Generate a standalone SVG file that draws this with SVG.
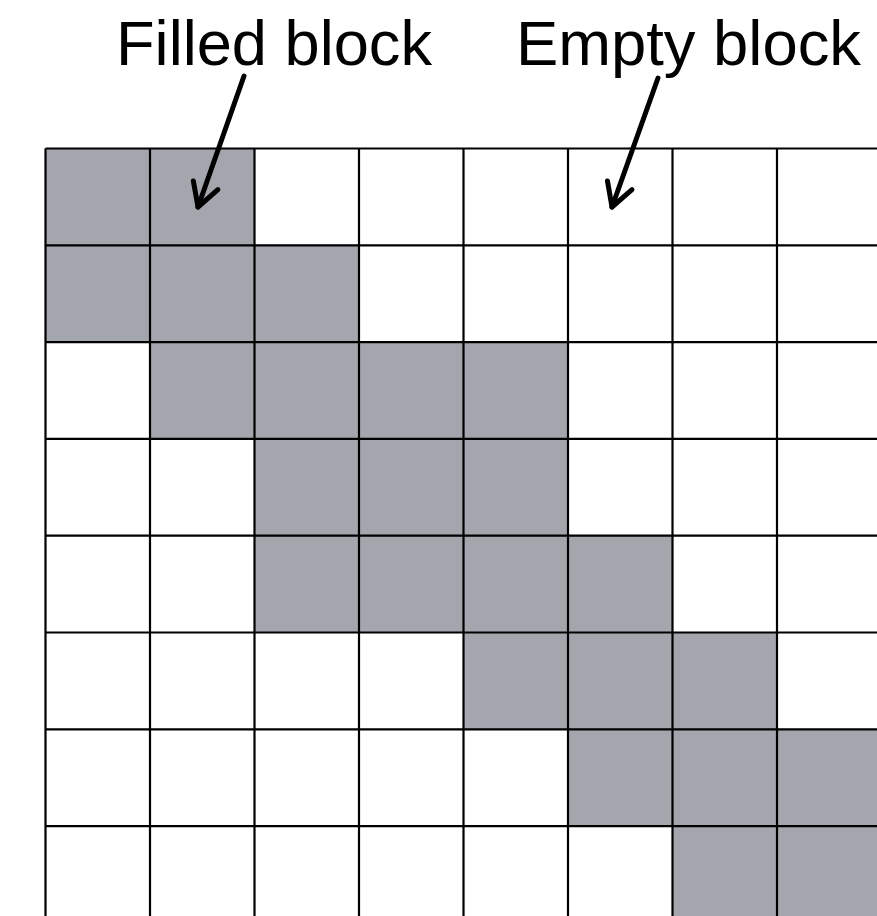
<svg xmlns="http://www.w3.org/2000/svg" width="877" height="916" viewBox="0 0 877 916">
<style>
.bg{fill:#ffffff}
.f{fill:#a3a6ad}
.g{stroke:#000;stroke-width:2.2;fill:none}
.lbl{font-family:"Liberation Sans",Arial,sans-serif;font-size:63px;fill:#000}
.arr{stroke:#000;stroke-width:5;fill:none;stroke-linecap:round;stroke-linejoin:round}
</style>
<defs>
<marker id="ah" markerUnits="userSpaceOnUse" markerWidth="40" markerHeight="40" viewBox="-30 -20 40 40" refX="0" refY="0" orient="auto" overflow="visible">
<path d="M-23,-13 L0,0 L-23,13" fill="none" stroke="#000" stroke-width="5" stroke-linecap="round" stroke-linejoin="round"/>
</marker>
</defs>
<rect class="bg" x="0" y="0" width="877" height="916"/>
<g id="matrix">
<g id="filled">
<rect class="f" x="45.5" y="148.5" width="209" height="96.8"/>
<rect class="f" x="45.5" y="245.3" width="313.5" height="96.8"/>
<rect class="f" x="150" y="342.1" width="418" height="96.8"/>
<rect class="f" x="254.5" y="438.9" width="313.5" height="96.8"/>
<rect class="f" x="254.5" y="535.7" width="418" height="96.8"/>
<rect class="f" x="463.5" y="632.5" width="313.5" height="96.8"/>
<rect class="f" x="568" y="729.3" width="320" height="96.8"/>
<rect class="f" x="672.5" y="826.1" width="220" height="96.8"/>
</g>
<g id="grid" class="g">
<path d="M45.5,148.5V916M150,148.5V916M254.5,148.5V916M359,148.5V916M463.5,148.5V916M568,148.5V916M672.5,148.5V916M777,148.5V916"/>
<path d="M45.5,148.5H877M45.5,245.3H877M45.5,342.1H877M45.5,438.9H877M45.5,535.7H877M45.5,632.5H877M45.5,729.3H877M45.5,826.1H877"/>
</g>
</g>
<g id="label-filled">
<text class="lbl" x="116" y="65" textLength="316" lengthAdjust="spacingAndGlyphs">Filled block</text>
</g>
<g id="label-empty">
<text class="lbl" x="516" y="65" textLength="345" lengthAdjust="spacingAndGlyphs">Empty block</text>
</g>
<g id="connectors">
<path class="arr" d="M244,76 L198,207" marker-end="url(#ah)"/>
<path class="arr" d="M658,78 L612,207" marker-end="url(#ah)"/>
</g>
</svg>
